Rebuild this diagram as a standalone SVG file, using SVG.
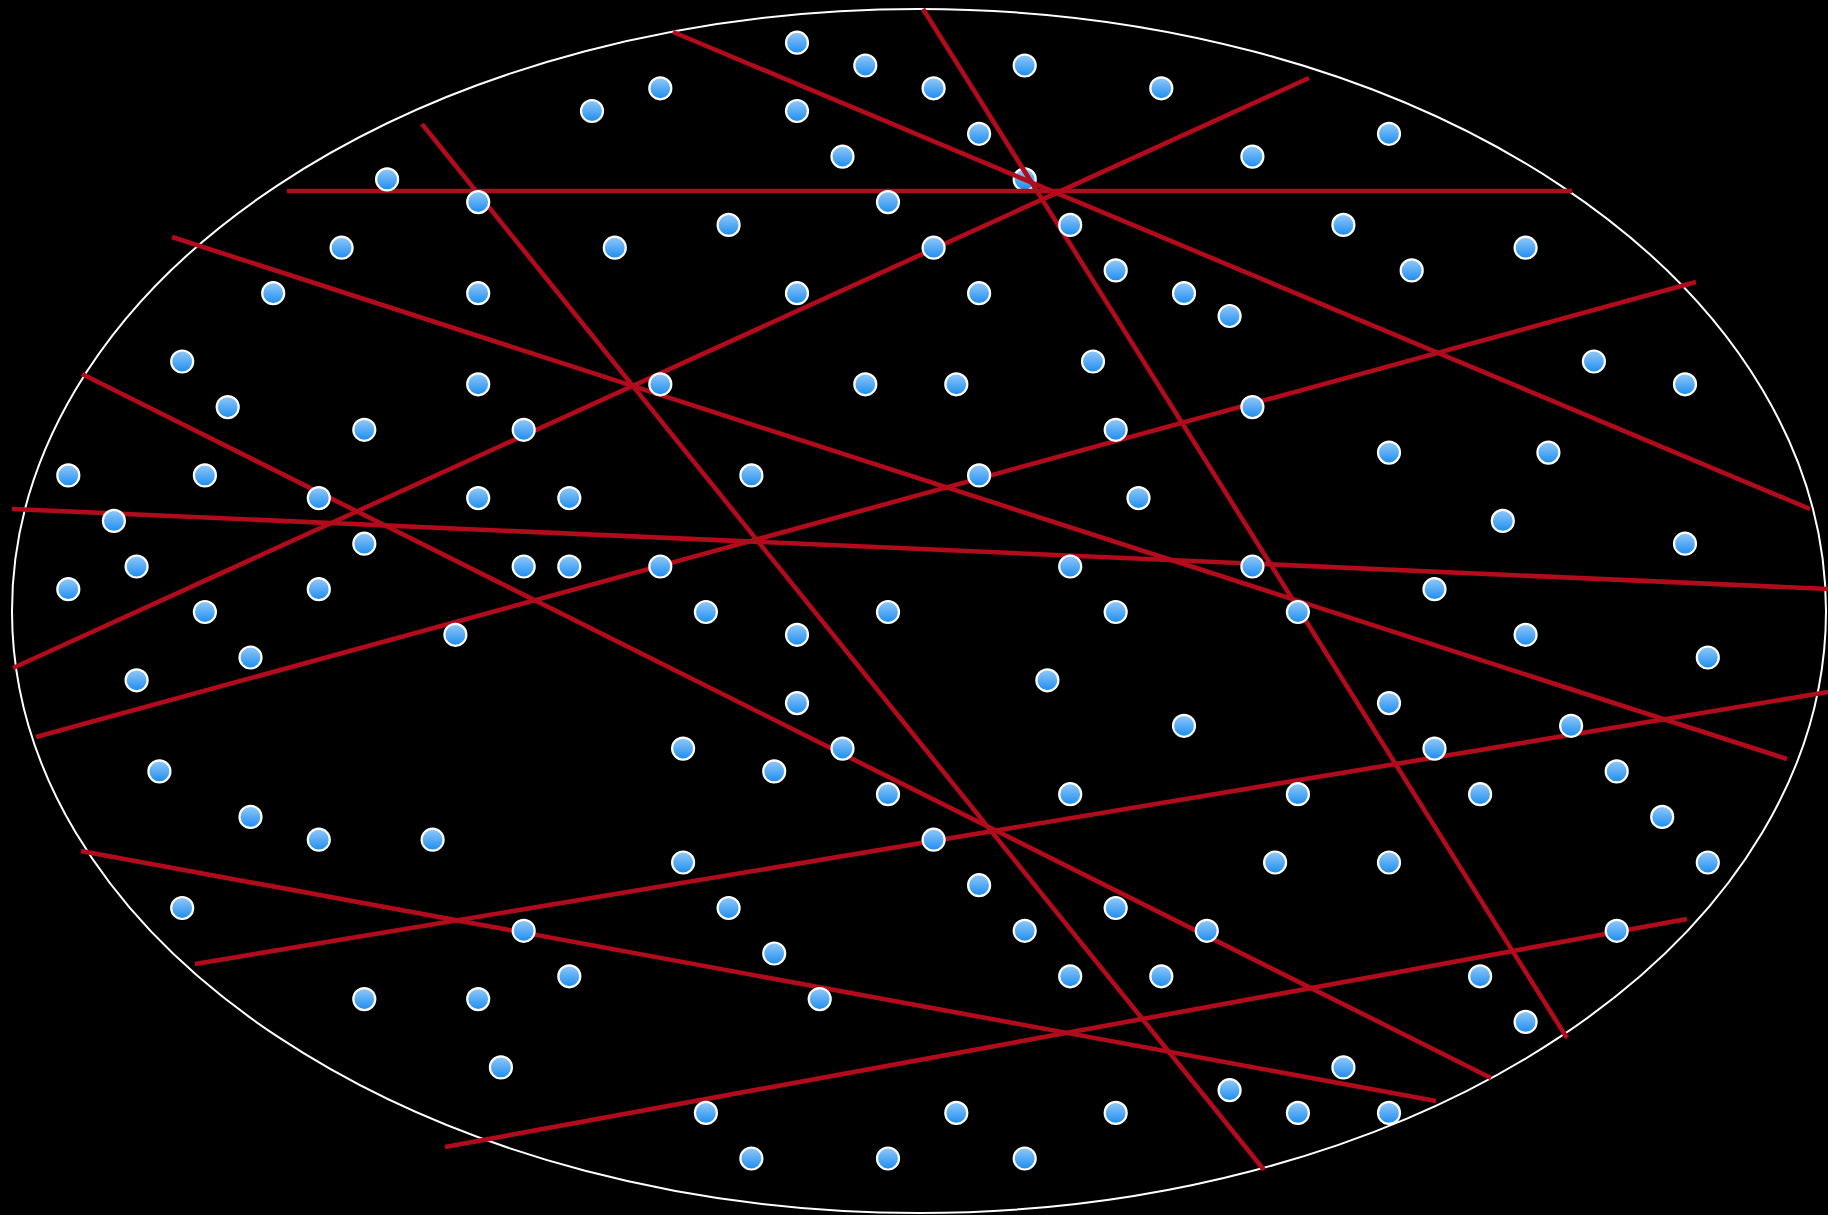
<svg xmlns="http://www.w3.org/2000/svg" xmlns:xlink="http://www.w3.org/1999/xlink" width="1828" height="1215" viewBox="0 0 1828 1215">
<defs>
<linearGradient id="g" x1="0" y1="0" x2="0" y2="1">
<stop offset="0" stop-color="#95caf9"/>
<stop offset="1" stop-color="#1a8cef"/>
</linearGradient>
<circle id="dot" r="11" fill="url(#g)" stroke="#ffffff" stroke-width="2.2"/>
</defs>
<style>
.ln{stroke:#b20b1c;stroke-width:4.6;fill:none;stroke-linecap:butt}
</style>
<rect width="1828" height="1215" fill="#000000"/>
<ellipse id="boundary" cx="919" cy="611" rx="907" ry="602" fill="none" stroke="#ffffff" stroke-width="2"/>
<g id="dot-under">
<use href="#dot" x="1024.7" y="179.4"/>
</g>
<g id="connectors">
<line class="ln" x1="287" y1="191" x2="1572" y2="191"/>
<line class="ln" x1="422" y1="124" x2="1264" y2="1170"/>
<line class="ln" x1="923" y1="9" x2="1567" y2="1038"/>
<line class="ln" x1="673" y1="32" x2="1810" y2="509"/>
<line class="ln" x1="172" y1="237" x2="1787" y2="759"/>
<line class="ln" x1="1309" y1="78" x2="13" y2="668"/>
<line class="ln" x1="1696" y1="282" x2="36" y2="737"/>
<line class="ln" x1="82" y1="374" x2="1491" y2="1078"/>
<line class="ln" x1="12" y1="509" x2="1828" y2="589"/>
<line class="ln" x1="1828" y1="692" x2="195" y2="964"/>
<line class="ln" x1="81" y1="851" x2="1436" y2="1101"/>
<line class="ln" x1="445" y1="1147" x2="1687" y2="919"/>
</g>
<g id="dots">
<use href="#dot" x="797" y="42.7"/>
<use href="#dot" x="865.3" y="65.5"/>
<use href="#dot" x="1024.7" y="65.5"/>
<use href="#dot" x="660.3" y="88.3"/>
<use href="#dot" x="933.6" y="88.3"/>
<use href="#dot" x="1161.3" y="88.3"/>
<use href="#dot" x="592" y="111"/>
<use href="#dot" x="797" y="111"/>
<use href="#dot" x="979.1" y="133.8"/>
<use href="#dot" x="1389" y="133.8"/>
<use href="#dot" x="842.5" y="156.6"/>
<use href="#dot" x="1252.4" y="156.6"/>
<use href="#dot" x="387.1" y="179.4"/>
<use href="#dot" x="478.2" y="202.1"/>
<use href="#dot" x="888" y="202.1"/>
<use href="#dot" x="728.6" y="224.9"/>
<use href="#dot" x="1070.2" y="224.9"/>
<use href="#dot" x="1343.4" y="224.9"/>
<use href="#dot" x="341.6" y="247.7"/>
<use href="#dot" x="614.8" y="247.7"/>
<use href="#dot" x="933.6" y="247.7"/>
<use href="#dot" x="1525.6" y="247.7"/>
<use href="#dot" x="1115.7" y="270.4"/>
<use href="#dot" x="1411.7" y="270.4"/>
<use href="#dot" x="273.2" y="293.2"/>
<use href="#dot" x="478.2" y="293.2"/>
<use href="#dot" x="797" y="293.2"/>
<use href="#dot" x="979.1" y="293.2"/>
<use href="#dot" x="1184" y="293.2"/>
<use href="#dot" x="1229.6" y="316"/>
<use href="#dot" x="182.2" y="361.5"/>
<use href="#dot" x="1093" y="361.5"/>
<use href="#dot" x="1593.9" y="361.5"/>
<use href="#dot" x="478.2" y="384.3"/>
<use href="#dot" x="660.3" y="384.3"/>
<use href="#dot" x="865.3" y="384.3"/>
<use href="#dot" x="956.3" y="384.3"/>
<use href="#dot" x="1685" y="384.3"/>
<use href="#dot" x="227.7" y="407.1"/>
<use href="#dot" x="1252.4" y="407.1"/>
<use href="#dot" x="364.3" y="429.8"/>
<use href="#dot" x="523.7" y="429.8"/>
<use href="#dot" x="1115.7" y="429.8"/>
<use href="#dot" x="1389" y="452.6"/>
<use href="#dot" x="1548.4" y="452.6"/>
<use href="#dot" x="68.3" y="475.4"/>
<use href="#dot" x="204.9" y="475.4"/>
<use href="#dot" x="751.4" y="475.4"/>
<use href="#dot" x="979.1" y="475.4"/>
<use href="#dot" x="318.8" y="498.1"/>
<use href="#dot" x="478.2" y="498.1"/>
<use href="#dot" x="569.3" y="498.1"/>
<use href="#dot" x="1138.5" y="498.1"/>
<use href="#dot" x="113.9" y="520.9"/>
<use href="#dot" x="1502.8" y="520.9"/>
<use href="#dot" x="364.3" y="543.7"/>
<use href="#dot" x="1685" y="543.7"/>
<use href="#dot" x="136.6" y="566.5"/>
<use href="#dot" x="523.7" y="566.5"/>
<use href="#dot" x="569.3" y="566.5"/>
<use href="#dot" x="660.3" y="566.5"/>
<use href="#dot" x="1070.2" y="566.5"/>
<use href="#dot" x="1252.4" y="566.5"/>
<use href="#dot" x="68.3" y="589.2"/>
<use href="#dot" x="318.8" y="589.2"/>
<use href="#dot" x="1434.5" y="589.2"/>
<use href="#dot" x="204.9" y="612"/>
<use href="#dot" x="705.9" y="612"/>
<use href="#dot" x="888" y="612"/>
<use href="#dot" x="1115.7" y="612"/>
<use href="#dot" x="1297.9" y="612"/>
<use href="#dot" x="455.4" y="634.8"/>
<use href="#dot" x="797" y="634.8"/>
<use href="#dot" x="1525.6" y="634.8"/>
<use href="#dot" x="250.5" y="657.5"/>
<use href="#dot" x="1707.8" y="657.5"/>
<use href="#dot" x="136.6" y="680.3"/>
<use href="#dot" x="1047.4" y="680.3"/>
<use href="#dot" x="797" y="703.1"/>
<use href="#dot" x="1389" y="703.1"/>
<use href="#dot" x="1184" y="725.8"/>
<use href="#dot" x="1571.1" y="725.8"/>
<use href="#dot" x="683.1" y="748.6"/>
<use href="#dot" x="842.5" y="748.6"/>
<use href="#dot" x="1434.5" y="748.6"/>
<use href="#dot" x="159.4" y="771.4"/>
<use href="#dot" x="774.2" y="771.4"/>
<use href="#dot" x="1616.7" y="771.4"/>
<use href="#dot" x="888" y="794.2"/>
<use href="#dot" x="1070.2" y="794.2"/>
<use href="#dot" x="1297.9" y="794.2"/>
<use href="#dot" x="1480.1" y="794.2"/>
<use href="#dot" x="250.5" y="816.9"/>
<use href="#dot" x="1662.2" y="816.9"/>
<use href="#dot" x="318.8" y="839.7"/>
<use href="#dot" x="432.6" y="839.7"/>
<use href="#dot" x="933.6" y="839.7"/>
<use href="#dot" x="683.1" y="862.5"/>
<use href="#dot" x="1275.1" y="862.5"/>
<use href="#dot" x="1389" y="862.5"/>
<use href="#dot" x="1707.8" y="862.5"/>
<use href="#dot" x="979.1" y="885.2"/>
<use href="#dot" x="182.2" y="908"/>
<use href="#dot" x="728.6" y="908"/>
<use href="#dot" x="1115.7" y="908"/>
<use href="#dot" x="523.7" y="930.8"/>
<use href="#dot" x="1024.7" y="930.8"/>
<use href="#dot" x="1206.8" y="930.8"/>
<use href="#dot" x="1616.7" y="930.8"/>
<use href="#dot" x="774.2" y="953.5"/>
<use href="#dot" x="569.3" y="976.3"/>
<use href="#dot" x="1070.2" y="976.3"/>
<use href="#dot" x="1161.3" y="976.3"/>
<use href="#dot" x="1480.1" y="976.3"/>
<use href="#dot" x="364.3" y="999.1"/>
<use href="#dot" x="478.2" y="999.1"/>
<use href="#dot" x="819.7" y="999.1"/>
<use href="#dot" x="1525.6" y="1021.9"/>
<use href="#dot" x="500.9" y="1067.4"/>
<use href="#dot" x="1343.4" y="1067.4"/>
<use href="#dot" x="1229.6" y="1090.2"/>
<use href="#dot" x="705.9" y="1112.9"/>
<use href="#dot" x="956.3" y="1112.9"/>
<use href="#dot" x="1115.7" y="1112.9"/>
<use href="#dot" x="1297.9" y="1112.9"/>
<use href="#dot" x="1389" y="1112.9"/>
<use href="#dot" x="751.4" y="1158.5"/>
<use href="#dot" x="888" y="1158.5"/>
<use href="#dot" x="1024.7" y="1158.5"/>
</g>
</svg>
